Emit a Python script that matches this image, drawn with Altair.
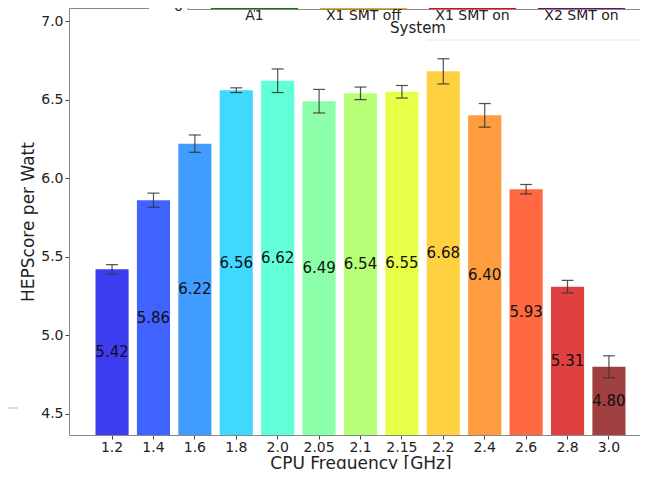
import altair as alt
import pandas as pd

# ---- main chart data ----
freqs = ["1.2", "1.4", "1.6", "1.8", "2.0", "2.05", "2.1", "2.15", "2.2", "2.4", "2.6", "2.8", "3.0"]
scores = [5.42, 5.86, 6.22, 6.56, 6.62, 6.49, 6.54, 6.55, 6.68, 6.40, 5.93, 5.31, 4.80]
errors = [0.03, 0.045, 0.055, 0.015, 0.075, 0.075, 0.04, 0.04, 0.08, 0.075, 0.03, 0.04, 0.07]
bar_colors = ["#3d3df0", "#4062ff", "#409cff", "#40d8ff", "#60ffd8", "#8cffa8", "#b8ff78",
              "#e8ff48", "#ffd040", "#ff9c40", "#ff6840", "#e04040", "#a04040"]
y_ticks = [4.5, 5.0, 5.5, 6.0, 6.5, 7.0]
Y_MIN, Y_MAX = 4.366, 7.083

# ---- overlapping neighbour chart (only its bottom strip is visible) ----
systems = ["A1", "X1 SMT off", "X1 SMT on", "X2 SMT on"]
system_colors = ["#008000", "#ffa500", "#ff0000", "#800080"]

df = pd.DataFrame({"freq": freqs, "score": scores, "err": errors, "color": bar_colors})
sys_df = pd.DataFrame({"sys": systems, "color": system_colors})
one = pd.DataFrame({"k": [0]})

FONT = "DejaVu Sans"
TXT = "#222222"
W, H = 571, 427

xscale = alt.Scale(type="band", domain=freqs, range=[0, 583], paddingInner=0.2, paddingOuter=0.64)
yscale = alt.Scale(domain=[Y_MIN, Y_MAX], nice=False, zero=False)
yaxis = alt.Axis(values=y_ticks, format=".1f", title="HEPScore per Watt", grid=False,
                 tickSize=4, labelPadding=2, labelFontSize=14, titleFontSize=17,
                 titleFontWeight="normal", titlePadding=3, domainColor="#888888",
                 tickColor="#444444", labelColor=TXT, titleColor=TXT,
                 labelFont=FONT, titleFont=FONT)
xaxis = alt.Axis(title="CPU Frequency [GHz]", labelAngle=0, grid=False, tickSize=4,
                 labelPadding=1, labelFontSize=14, titleFontSize=17, titleFontWeight="normal",
                 titlePadding=1, domainColor="#888888", tickColor="#444444",
                 labelColor=TXT, titleColor=TXT, labelFont=FONT, titleFont=FONT)

base = alt.Chart(df)

bars = base.mark_bar().encode(
    x=alt.X("freq:N", sort=freqs, scale=xscale, axis=xaxis),
    y=alt.Y("score:Q", scale=yscale, axis=yaxis),
    y2=alt.datum(Y_MIN),
    color=alt.Color("color:N", scale=None),
)

err_rule = base.transform_calculate(
    lo="datum.score - datum.err", hi="datum.score + datum.err"
).mark_rule(color="#333333", strokeWidth=1.2, opacity=0.85).encode(
    x=alt.X("freq:N", sort=freqs, scale=xscale, axis=None),
    y=alt.Y("lo:Q", scale=yscale, axis=yaxis),
    y2="hi:Q",
)
cap_lo = base.transform_calculate(lo="datum.score - datum.err").mark_tick(
    color="#333333", size=12, thickness=1.2, opacity=0.85).encode(
    x=alt.X("freq:N", sort=freqs, scale=xscale, axis=None),
    y=alt.Y("lo:Q", scale=yscale, axis=yaxis),
)
cap_hi = base.transform_calculate(hi="datum.score + datum.err").mark_tick(
    color="#333333", size=12, thickness=1.2, opacity=0.85).encode(
    x=alt.X("freq:N", sort=freqs, scale=xscale, axis=None),
    y=alt.Y("hi:Q", scale=yscale, axis=yaxis),
)
labels = base.transform_calculate(
    mid=f"(datum.score + {Y_MIN}) / 2", lab="format(datum.score, '.2f')"
).mark_text(font=FONT, fontSize=15, color="#111111").encode(
    x=alt.X("freq:N", sort=freqs, scale=xscale, axis=None),
    y=alt.Y("mid:Q", scale=yscale, axis=yaxis),
    text="lab:N",
)

top_frame = alt.Chart(one).mark_rule(color="#888888").encode(
    x=alt.value(0), x2=alt.value(583), y=alt.value(0.5))

# ---- overlay (neighbouring figure) ----
sys_scale = alt.Scale(type="band", domain=systems, range=[119, 579], paddingInner=0.2, paddingOuter=0.21)
cover = alt.Chart(one).mark_rect(color="white").encode(
    x=alt.value(80), x2=alt.value(583), y=alt.value(-10), y2=alt.value(29))
strips = alt.Chart(sys_df).mark_bar().encode(
    x=alt.X("sys:N", sort=systems, scale=sys_scale, axis=None),
    y=alt.value(-10), y2=alt.value(1.5),
    color=alt.Color("color:N", scale=None))
top_axis = alt.Chart(one).mark_rule(color="#888888").encode(
    x=alt.value(119), x2=alt.value(583), y=alt.value(1.5))
top_left = alt.Chart(one).mark_rule(color="#888888").encode(
    x=alt.value(119), y=alt.value(-10), y2=alt.value(1.5))
top_ticks = alt.Chart(sys_df).mark_rule(color="#444444").encode(
    x=alt.X("sys:N", sort=systems, scale=sys_scale, axis=None),
    y=alt.value(1.5), y2=alt.value(4))
top_labels = alt.Chart(sys_df).mark_text(font=FONT, fontSize=14, color=TXT, baseline="middle").encode(
    x=alt.X("sys:N", sort=systems, scale=sys_scale, axis=None),
    y=alt.value(7.5), text="sys:N")
top_title = alt.Chart(one).mark_text(font=FONT, fontSize=15, color=TXT, baseline="middle",
                                     text="System").encode(x=alt.value(349), y=alt.value(20))
top_zero = alt.Chart(one).mark_text(font=FONT, fontSize=14, color=TXT, align="right",
                                    baseline="alphabetic", text="0").encode(
    x=alt.value(114), y=alt.value(3))
faint1 = alt.Chart(one).mark_rule(color="#e6e6e6").encode(
    x=alt.value(358), x2=alt.value(583), y=alt.value(32))
faint2 = alt.Chart(one).mark_rule(color="#d0d0d0", strokeWidth=1.5).encode(
    x=alt.value(-61), x2=alt.value(-51), y=alt.value(400))

chart = alt.layer(
    bars, err_rule, cap_lo, cap_hi, labels, top_frame,
    cover, strips, top_axis, top_left, top_ticks, top_labels, top_title, top_zero,
    faint1, faint2,
).resolve_scale(x="independent").properties(
    width=W, height=H,
    autosize=alt.AutoSizeParams(type="none"),
    padding={"left": 61, "top": 0, "right": 0, "bottom": 34},
    background="white",
).configure_view(strokeWidth=0)

chart.save("out.html", embed_options={"renderer": "svg", "actions": False})
